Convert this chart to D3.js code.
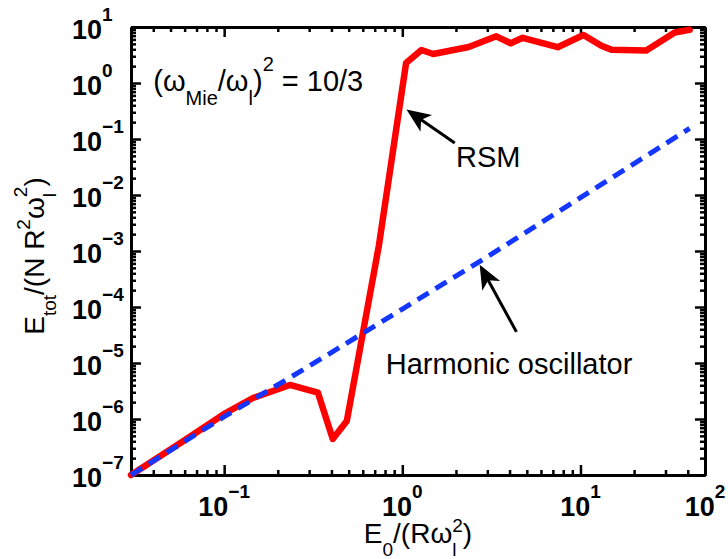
<!DOCTYPE html>
<html>
<head>
<meta charset="utf-8">
<script src="https://cdn.jsdelivr.net/npm/d3@7"></script>
<style>
  html, body { margin: 0; padding: 0; background: #fff; }
  svg { display: block; }
</style>
</head>
<body>
<svg id="chart" width="728" height="559"></svg>
<script>
// RSM total energy vs. driving field amplitude
const rsmE0   = [0.030, 0.0565, 0.102, 0.145, 0.234, 0.336, 0.407, 0.488, 0.738, 1.05, 1.28, 1.49, 2.36, 3.37, 4.06, 4.74, 7.45, 10.4, 13.1, 14.9, 23.4, 33.8, 41.0];
const rsmEtot = [1.0e-7, 3.7e-7, 1.28e-6, 2.37e-6, 4.05e-6, 2.95e-6, 4.4e-7, 9.2e-7, 1.23e-3, 2.28, 3.88, 3.30, 4.39, 6.82, 5.12, 6.41, 4.36, 7.2, 4.61, 3.94, 3.80, 7.98, 8.91];

// Harmonic oscillator reference curve
const hoE0   = [0.03, 0.1, 0.3, 1, 3, 10, 41];
const hoEtot = [1.0e-7, 1.1e-6, 8.8e-6, 9.2e-5, 7.9e-4, 8.95e-3, 0.155];

// Axis ranges and tick labels
const xDomain = [0.03, 50];
const yDomain = [1e-7, 10];
const xTickVals = [0.1, 1, 10];
const xLabelVals = [0.1, 1, 10, 50];
const xLabelExp = ["\u22121", "0", "1", "2"];
const yTickVals = [1e-7, 1e-6, 1e-5, 1e-4, 1e-3, 1e-2, 1e-1, 1e0, 1e1];
const yTickExp = ["\u22127", "\u22126", "\u22125", "\u22124", "\u22123", "\u22122", "\u22121", "0", "1"];

// Annotations in data coordinates
const rsmArrow = { from: [1.97, 0.085], to: [1.077, 0.32] };
const rsmLabel = { at: [2.0, 0.032], text: "RSM" };
const hoArrow = { from: [4.37, 3.6e-5], to: [2.75, 5.3e-4] };
const hoLabel = { at: [0.807, 6.4e-6], text: "Harmonic oscillator" };
const ratioLabelAt = [0.040, 0.72];

const FONT = "'Liberation Sans', Arial, Helvetica, sans-serif";
const svg = d3.select("#chart");
const plotL = 131, plotR = 705, plotT = 27, plotB = 475;

const x = d3.scaleLog().domain(xDomain).range([plotL, plotR]);
const y = d3.scaleLog().domain(yDomain).range([plotB, plotT]);

// minor ticks: 2..9 within each decade, inside the domain
function minorTicks(domain) {
  const out = [];
  const lo = Math.floor(Math.log10(domain[0])), hi = Math.ceil(Math.log10(domain[1]));
  for (let e = lo; e < hi; e++) {
    for (let k = 2; k <= 9; k++) {
      const v = k * Math.pow(10, e);
      if (v > domain[0] * 1.0001 && v < domain[1] * 0.9999) out.push(v);
    }
  }
  return out;
}
const xMinor = minorTicks(xDomain);
const yMinor = minorTicks(yDomain);

function styleAxis(g, width) {
  g.selectAll(".domain").attr("stroke", "#000").attr("stroke-width", 3);
  g.selectAll(".tick line").attr("stroke", "#000").attr("stroke-width", width);
  g.selectAll(".tick text").remove();
}

function drawAxis(axisFn, pos, scale, vals, size, w) {
  const g = svg.append("g").attr("transform", pos);
  g.call(axisFn(scale).tickValues(vals).tickSize(-size).tickSizeOuter(0).tickFormat(() => ""));
  styleAxis(g, w);
  return g;
}

// box with inward ticks on all four sides
[[d3.axisBottom, `translate(0,${plotB})`, x, 1],
 [d3.axisTop, `translate(0,${plotT})`, x, 1],
 [d3.axisLeft, `translate(${plotL},0)`, y, 0],
 [d3.axisRight, `translate(${plotR},0)`, y, 0]].forEach(([fn, pos, sc, isX]) => {
  drawAxis(fn, pos, sc, isX ? xMinor : yMinor, 5, 2.5);
  drawAxis(fn, pos, sc, isX ? xTickVals : yTickVals, 10, 2.5);
});

// text with sub/superscripts
function rich(textSel, parts) {
  let cur = 0;
  parts.forEach(p => {
    const shift = p.shift || 0;
    const ts = textSel.append("tspan").text(p.t).attr("font-size", p.size).attr("dy", shift - cur);
    if (p.dx) ts.attr("dx", p.dx);
    cur = shift;
  });
}

// y tick labels
yTickVals.forEach((v, i) => {
  const t = svg.append("text").attr("x", 72).attr("y", y(v) + 12)
    .attr("font-family", FONT).attr("font-weight", "bold").attr("fill", "#000");
  rich(t, [{ t: "10", size: 27 }, { t: yTickExp[i], size: 19, shift: -18 }]);
});

// x tick labels
xLabelVals.forEach((v, i) => {
  const t = svg.append("text").attr("x", x(v)).attr("y", 516)
    .attr("text-anchor", "middle")
    .attr("font-family", FONT).attr("font-weight", "bold").attr("fill", "#000");
  rich(t, [{ t: "10", size: 27 }, { t: xLabelExp[i], size: 19, shift: -18 }]);
});

// axis titles
const xt = svg.append("text").attr("x", (plotL + plotR) / 2).attr("y", 542.5)
  .attr("text-anchor", "middle").attr("font-family", FONT).attr("fill", "#000");
rich(xt, [
  { t: "E", size: 28 }, { t: "0", size: 19, shift: 13 },
  { t: "/(R\u03c9", size: 28 }, { t: "l", size: 19, shift: 13 },
  { t: "2", size: 19, shift: -11, dx: -4.2 }, { t: ")", size: 28 }
]);

const yt = svg.append("text").attr("transform", "translate(43.5,256) rotate(-90)")
  .attr("text-anchor", "middle").attr("font-family", FONT).attr("fill", "#000");
rich(yt, [
  { t: "E", size: 28 }, { t: "tot", size: 19, shift: 12 },
  { t: "/(N R", size: 28 }, { t: "2", size: 19, shift: -14 },
  { t: "\u03c9", size: 28 }, { t: "l", size: 19, shift: 12 },
  { t: "2", size: 19, shift: -17, dx: -4.2 }, { t: ")", size: 28 }
]);

// curves
const line = d3.line().x(d => x(d[0])).y(d => y(d[1]));
svg.append("path")
  .datum(rsmE0.map((v, i) => [v, rsmEtot[i]]))
  .attr("d", line).attr("fill", "none")
  .attr("stroke", "#ff0000").attr("stroke-width", 6.5)
  .attr("stroke-linejoin", "round").attr("stroke-linecap", "round");
svg.append("path")
  .datum(hoE0.map((v, i) => [v, hoEtot[i]]))
  .attr("d", line).attr("fill", "none")
  .attr("stroke", "#1437ff").attr("stroke-width", 5)
  .attr("stroke-dasharray", "13,8");

// annotation arrows
function arrow(a) {
  const x0 = x(a.from[0]), y0 = y(a.from[1]), x1 = x(a.to[0]), y1 = y(a.to[1]);
  const ang = Math.atan2(y1 - y0, x1 - x0);
  const L = 22, half = 0.40, notch = 15;
  const bx = (s) => x1 - L * Math.cos(ang + s * half);
  const by = (s) => y1 - L * Math.sin(ang + s * half);
  const nx = x1 - notch * Math.cos(ang), ny = y1 - notch * Math.sin(ang);
  svg.append("line").attr("x1", x0).attr("y1", y0).attr("x2", nx).attr("y2", ny)
    .attr("stroke", "#000").attr("stroke-width", 3);
  svg.append("path")
    .attr("d", `M${x1},${y1}L${bx(1)},${by(1)}L${nx},${ny}L${bx(-1)},${by(-1)}Z`)
    .attr("fill", "#000").attr("stroke", "#000").attr("stroke-width", 1.5)
    .attr("stroke-linejoin", "miter");
}
arrow(rsmArrow);
arrow(hoArrow);

[rsmLabel, hoLabel].forEach(l => {
  svg.append("text").attr("x", x(l.at[0])).attr("y", y(l.at[1]))
    .attr("font-family", FONT).attr("font-size", 29).attr("fill", "#000").text(l.text);
});

const rt = svg.append("text").attr("x", x(ratioLabelAt[0])).attr("y", y(ratioLabelAt[1]))
  .attr("font-family", FONT).attr("fill", "#000");
rich(rt, [
  { t: "(\u03c9", size: 29 }, { t: "Mie", size: 20, shift: 14 },
  { t: "/\u03c9", size: 29 }, { t: "l", size: 20, shift: 14 },
  { t: ")", size: 29 }, { t: "2", size: 20, shift: -20 },
  { t: " = 10/3", size: 29 }
]);
</script>
</body>
</html>
